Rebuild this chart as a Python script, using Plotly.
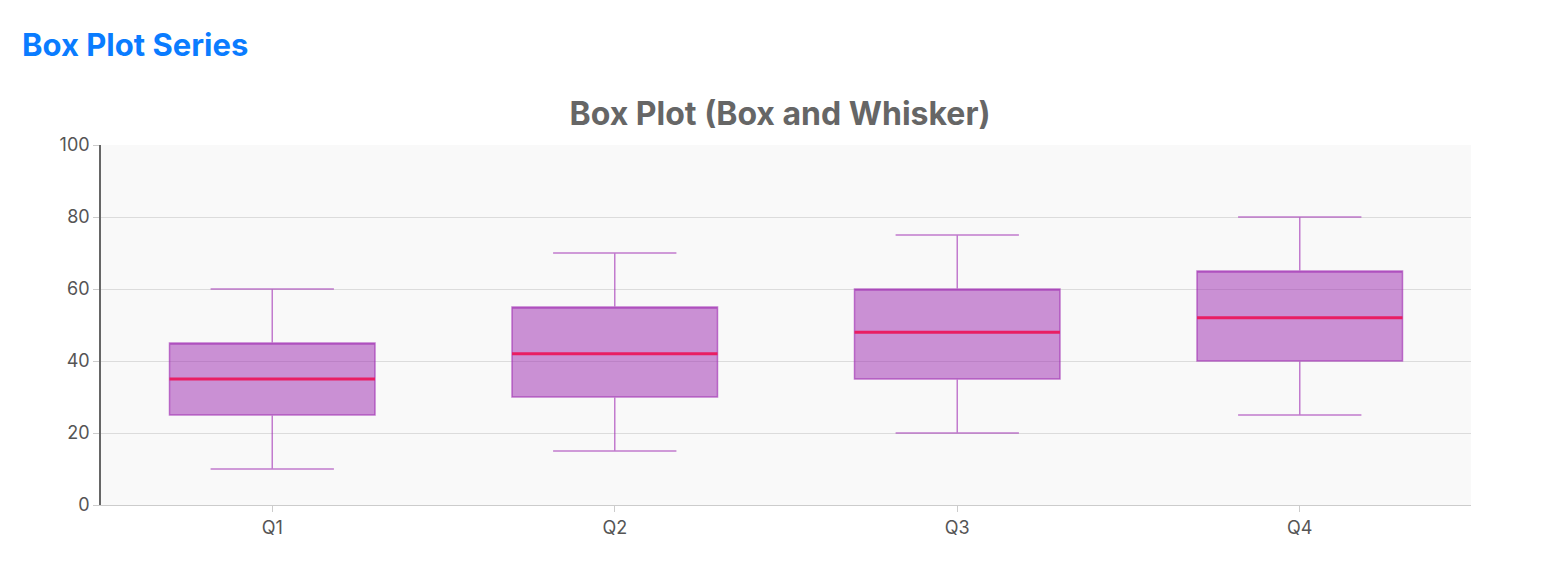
import plotly.graph_objects as go

categories = ["Q1", "Q2", "Q3", "Q4"]
mins = [10, 15, 20, 25]
q1s = [25, 30, 35, 40]
medians = [35, 42, 48, 52]
q3s = [45, 55, 60, 65]
maxs = [60, 70, 75, 80]

fig = go.Figure()
fig.add_trace(go.Box(
    x=categories, q1=q1s, median=q3s, q3=q3s, lowerfence=mins, upperfence=maxs,
    fillcolor="rgba(156,39,176,0.5)", line=dict(color="rgba(156,39,176,0.6)", width=1.5),
    width=0.6, whiskerwidth=0.6, showlegend=False, hoverinfo="skip"))
fig.add_trace(go.Box(
    x=categories, q1=medians, median=medians, q3=medians, lowerfence=medians, upperfence=medians,
    fillcolor="rgba(0,0,0,0)", line=dict(color="#e91e63", width=3),
    width=0.6, whiskerwidth=0, showlegend=False, name="median"))

fig.update_layout(
    width=1544, height=584, paper_bgcolor="white", plot_bgcolor="#f9f9f9",
    boxmode="overlay",
    margin=dict(l=93, r=81, t=137, b=87),
    font=dict(family="Inter, Roboto, sans-serif", color="#555", size=18),
    title=dict(text="<b>Box Plot (Box and Whisker)</b>", x=0.5, xanchor="center",
               y=1 - 106/584, yanchor="middle", font=dict(size=32, color="#666")),
    annotations=[dict(text="<b>Box Plot Series</b>", xref="paper", yref="paper",
                      x=-81/1370, y=1 + 101/360, xanchor="left", yanchor="middle",
                      showarrow=False, font=dict(size=31, color="#0a7cff"))],
    xaxis=dict(showgrid=False, showline=True, linecolor="#ccc", ticks="outside",
               ticklen=6, tickcolor="#ccc", tickfont=dict(size=18, color="#555")),
    yaxis=dict(range=[0, 100], dtick=20, gridcolor="#dcdcdc", showline=True,
               linecolor="#666", linewidth=1.5, ticks="outside", ticklen=6, tickcolor="#ccc",
               zeroline=False, tickfont=dict(size=18, color="#555")),
)
fig.write_html("out.html")
